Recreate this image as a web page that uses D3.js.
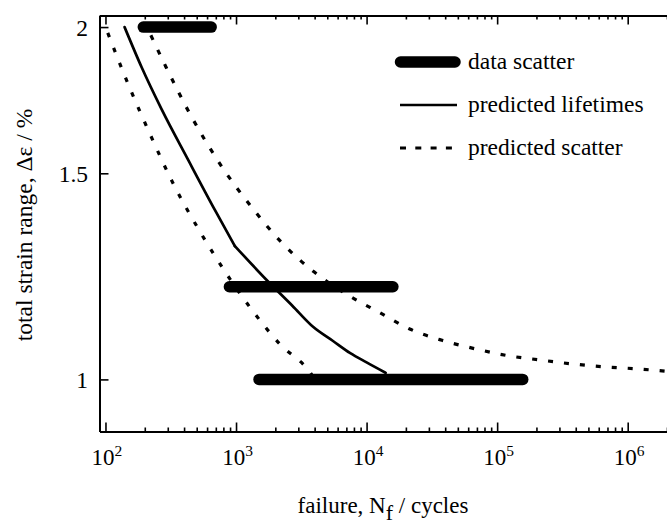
<!DOCTYPE html>
<html>
<head>
<meta charset="utf-8">
<script src="https://cdn.jsdelivr.net/npm/d3@7"></script>
<style>
  html, body { margin: 0; padding: 0; background: #fff; }
  svg { display: block; }
  text { font-family: "Liberation Serif", "Times New Roman", serif; fill: #000; }
</style>
</head>
<body>
<svg id="chart" width="667" height="526"></svg>
<script>
// Cycles to failure vs. total strain range (log-log)

// Measured scatter bands: strain level and range of lifetimes
const scatterStrain = [2.0, 1.2, 1.0];
const scatterNmin = [195, 890, 1500];
const scatterNmax = [645, 15900, 157000];

// Predicted lifetime curve (two branches meeting at a knee near 1000 cycles)
const predN = [140, 190, 270, 430, 690, 980, 1715, 2700, 3890, 5500, 7500, 10000, 14000];
const predStrain = [2.0, 1.846, 1.70, 1.54, 1.395, 1.30, 1.216, 1.156, 1.109, 1.079, 1.053, 1.034, 1.013];
const predKnee = 5;

// Predicted scatter, lower bound
const lowN = [100, 151, 219, 327, 524, 900, 1343, 2148, 3690, 3900];
const lowStrain = [2.0, 1.782, 1.621, 1.473, 1.340, 1.218, 1.144, 1.073, 1.014, 1.005];

// Predicted scatter, upper bound
const highN = [208, 290, 450, 753, 1374, 2265, 3980, 7060, 12700, 21900, 37800, 68000, 119000, 212000, 375000, 663000, 1170000, 2000000];
const highStrain = [2.0, 1.850, 1.681, 1.528, 1.395, 1.307, 1.235, 1.182, 1.140, 1.103, 1.080, 1.062, 1.048, 1.039, 1.031, 1.025, 1.021, 1.016];

// Axis ticks
const xMajor = [1e2, 1e3, 1e4, 1e5, 1e6];
const xExponents = ["2", "3", "4", "5", "6"];
const yMajor = [1, 1.5, 2];
const yLabels = ["1", "1.5", "2"];

// Legend entries
const legendLabels = ["data scatter", "predicted lifetimes", "predicted scatter"];

const svg = d3.select("#chart");
const plotLeft = 99.5, plotRight = 667, plotTop = 15.5, plotBottom = 431.5;

const x = d3.scaleLog().domain([90, 2e6]).range([plotLeft, plotRight]);
const y = d3.scaleLog().domain([0.9026, 2.046]).range([plotBottom, plotTop]);

const xMinor = [];
for (let e = 1; e <= 6; e++) {
  for (let m = 2; m <= 9; m++) {
    const v = m * Math.pow(10, e);
    if (v >= 90 && v <= 2e6) xMinor.push(v);
  }
}

svg.append("defs").append("clipPath").attr("id", "plot")
  .append("rect").attr("x", plotLeft).attr("y", plotTop)
  .attr("width", plotRight - plotLeft).attr("height", plotBottom - plotTop);

const plot = svg.append("g").attr("clip-path", "url(#plot)");

// Scatter bands
const bands = scatterStrain.map((s, i) => ({ s, a: scatterNmin[i], b: scatterNmax[i] }));
plot.selectAll("line.band").data(bands).enter().append("line")
  .attr("class", "band")
  .attr("x1", d => x(d.a)).attr("x2", d => x(d.b))
  .attr("y1", d => y(d.s)).attr("y2", d => y(d.s))
  .attr("stroke", "#000").attr("stroke-width", 11.5).attr("stroke-linecap", "round");

const toPts = (ns, ss) => ns.map((n, i) => [n, ss[i]]);
const lineSmooth = d3.line().x(d => x(d[0])).y(d => y(d[1])).curve(d3.curveMonotoneX);

const predPts = toPts(predN, predStrain);
[predPts.slice(0, predKnee + 1), predPts.slice(predKnee)].forEach(seg => {
  plot.append("path").datum(seg)
    .attr("d", lineSmooth).attr("fill", "none").attr("stroke", "#000")
    .attr("stroke-width", 2.7).attr("stroke-linecap", "round");
});

// Dashed bound; the dash phase is set so the curve ends on a dash
function dashedCurve(pts, dash, gap) {
  const p = plot.append("path").datum(pts)
    .attr("d", lineSmooth).attr("fill", "none").attr("stroke", "#000")
    .attr("stroke-width", 3.2).attr("stroke-dasharray", `${dash},${gap}`);
  const len = p.node().getTotalLength();
  p.attr("stroke-dashoffset", dash - (len % (dash + gap)));
  return p;
}
dashedCurve(toPts(lowN, lowStrain), 4.5, 11.5);
plot.append("path").datum(toPts(highN, highStrain))
  .attr("d", lineSmooth).attr("fill", "none").attr("stroke", "#000")
  .attr("stroke-width", 3.2).attr("stroke-dasharray", "5,11").attr("stroke-dashoffset", -9);

// Axes
function styleAxis(g) {
  g.select(".domain").attr("stroke-width", 2);
  g.selectAll(".tick line").attr("stroke-width", 1.6);
  g.selectAll(".tick text").remove();
}

svg.append("g").attr("transform", `translate(0,${plotBottom})`)
  .call(d3.axisBottom(x).tickValues(xMinor).tickSizeInner(-4).tickSizeOuter(0).tickFormat(() => ""))
  .call(styleAxis);
svg.append("g").attr("transform", `translate(0,${plotBottom})`)
  .call(d3.axisBottom(x).tickValues(xMajor).tickSizeInner(-9).tickSizeOuter(0).tickFormat(() => ""))
  .call(styleAxis);

svg.append("g").attr("transform", `translate(0,${plotTop})`)
  .call(d3.axisTop(x).tickValues(xMinor).tickSizeInner(-4).tickSizeOuter(0).tickFormat(() => ""))
  .call(styleAxis);
svg.append("g").attr("transform", `translate(0,${plotTop})`)
  .call(d3.axisTop(x).tickValues(xMajor).tickSizeInner(-9).tickSizeOuter(0).tickFormat(() => ""))
  .call(styleAxis);

svg.append("g").attr("transform", `translate(${plotLeft},0)`)
  .call(d3.axisLeft(y).tickValues(yMajor).tickSizeInner(-9).tickSizeOuter(0).tickFormat(() => ""))
  .call(styleAxis);

// X tick labels: powers of ten
xMajor.forEach((v, i) => {
  const t = svg.append("text")
    .attr("x", x(v) + 1.5).attr("y", 465)
    .attr("text-anchor", "middle").attr("font-size", 23);
  t.append("tspan").text("10");
  t.append("tspan").attr("dy", -9).attr("font-size", 15.5).text(xExponents[i]);
});

// Y tick labels
yMajor.forEach((v, i) => {
  svg.append("text")
    .attr("x", 88).attr("y", y(v) + 8.5)
    .attr("text-anchor", "end").attr("font-size", 23.5)
    .text(yLabels[i]);
});

// Axis titles
const xt = svg.append("text").attr("x", 383).attr("y", 513)
  .attr("text-anchor", "middle").attr("font-size", 23);
xt.append("tspan").text("failure, N");
xt.append("tspan").attr("dy", 7).attr("font-size", 22).text("f");
xt.append("tspan").attr("dy", -7).text(" / cycles");

svg.append("text")
  .attr("transform", "translate(32,225) rotate(-90)")
  .attr("text-anchor", "middle").attr("font-size", 23.5)
  .text("total strain range, \u0394\u03b5 / %");

// Legend
const legY = [62, 105, 148];
svg.append("line").attr("x1", 400.5).attr("x2", 455)
  .attr("y1", legY[0]).attr("y2", legY[0])
  .attr("stroke", "#000").attr("stroke-width", 11.5).attr("stroke-linecap", "round");
svg.append("line").attr("x1", 400).attr("x2", 457)
  .attr("y1", legY[1]).attr("y2", legY[1])
  .attr("stroke", "#000").attr("stroke-width", 2.6);
svg.append("line").attr("x1", 400).attr("x2", 452)
  .attr("y1", legY[2]).attr("y2", legY[2])
  .attr("stroke", "#000").attr("stroke-width", 3.2).attr("stroke-dasharray", "6,9.3");

legendLabels.forEach((lab, i) => {
  svg.append("text").attr("x", 468).attr("y", legY[i] + 7)
    .attr("font-size", 23.5).text(lab);
});
</script>
</body>
</html>
